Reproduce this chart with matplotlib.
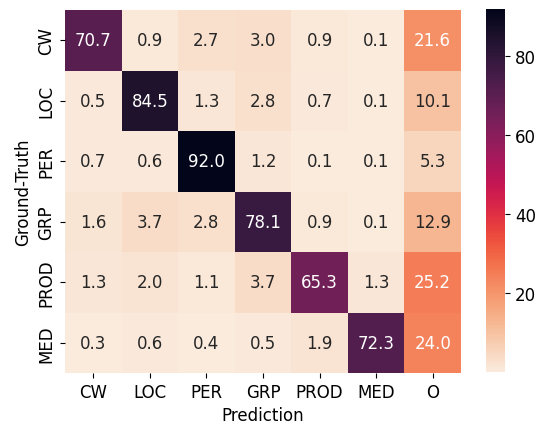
import matplotlib
matplotlib.use('Agg')
import matplotlib.pyplot as plt
import numpy as np
import seaborn as sns

rows = ['CW', 'LOC', 'PER', 'GRP', 'PROD', 'MED']
cols = ['CW', 'LOC', 'PER', 'GRP', 'PROD', 'MED', 'O']

cw = [70.7, 0.9, 2.7, 3.0, 0.9, 0.1, 21.6]
loc = [0.5, 84.5, 1.3, 2.8, 0.7, 0.1, 10.1]
per = [0.7, 0.6, 92.0, 1.2, 0.1, 0.1, 5.3]
grp = [1.6, 3.7, 2.8, 78.1, 0.9, 0.1, 12.9]
prod = [1.3, 2.0, 1.1, 3.7, 65.3, 1.3, 25.2]
med = [0.3, 0.6, 0.4, 0.5, 1.9, 72.3, 24.0]

mat = np.array([cw, loc, per, grp, prod, med])

fig = plt.figure(figsize=(5.42, 4.27), dpi=100)
ax = fig.add_axes([0.1199, 0.1241, 0.7307, 0.8501])
cax = fig.add_axes([0.8967, 0.1264, 0.0351, 0.8501])
sns.heatmap(mat, annot=True, fmt='.1f', cmap='rocket_r',
            xticklabels=cols, yticklabels=rows, ax=ax, cbar_ax=cax,
            annot_kws={'fontsize': 12})
ax.set_xlabel('Prediction', fontsize=12)
ax.set_ylabel('Ground-Truth', fontsize=12)
ax.tick_params(labelsize=12)
cax.tick_params(labelsize=12)
fig.savefig('out.png', dpi=100)
